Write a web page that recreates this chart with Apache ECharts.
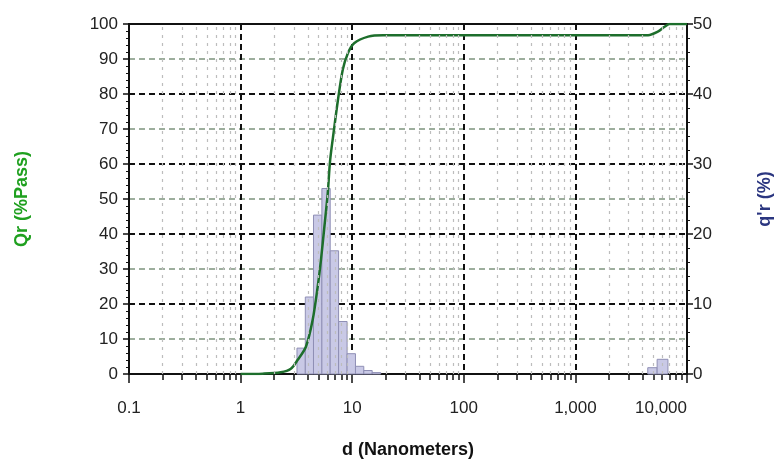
<!DOCTYPE html>
<html>
<head>
<meta charset="utf-8">
<script src="https://cdn.jsdelivr.net/npm/echarts@6/dist/echarts.min.js"></script>
<style>
  html, body { margin: 0; padding: 0; background: #ffffff; }
  #chart { width: 776px; height: 463px; }
</style>
</head>
<body>
<div id="chart"></div>
<script>
// Particle size distribution: differential histogram q'r (%) and cumulative Qr (%Pass)

// Histogram bins (nanometers) and their share of particles
const binStart = [3.2, 3.8, 4.5, 5.35, 6.35, 7.55, 9.0, 10.7, 12.7, 15.1, 4450, 5400];
const binEnd   = [3.8, 4.5, 5.35, 6.35, 7.55, 9.0, 10.7, 12.7, 15.1, 18.0, 5400, 6750];
const binPct   = [3.7, 11.0, 22.7, 26.5, 17.6, 7.5, 2.9, 1.1, 0.5, 0.2, 0.9, 2.1];

// Cumulative passing curve
const curveD    = [1.0, 1.58, 2.29, 2.82, 3.24, 3.85, 4.42, 4.91, 5.25, 5.63, 6.04, 6.34, 6.88, 7.43, 8.23, 9.13, 10.4, 13.9, 18.9, 27.6, 4480, 5480, 6290, 6960, 10000];
const curvePass = [0, 0.1, 0.5, 1.5, 4.0, 7.8, 15.4, 25.0, 32.6, 42.0, 51.7, 61.0, 70.0, 78.0, 86.9, 91.6, 94.5, 96.4, 96.8, 96.8, 96.8, 97.8, 99.2, 100, 100];

// Axis ranges
const dMin = 0.1, dMax = 10000;
const qrMax = 100, qprimeMax = 50;

// Minor decade positions (2..9 in each decade)
const minorD = [];
for (let dec = 0.1; dec < dMax; dec *= 10) {
  for (let k = 2; k <= 9; k++) minorD.push(+(dec * k).toPrecision(3));
}

const FONT = 'Liberation Sans';
const chart = echarts.init(document.getElementById('chart'), null, { renderer: 'canvas' });

chart.setOption({
  animation: false,
  backgroundColor: '#ffffff',
  grid: {
    left: 129, right: 89, top: 24, bottom: 89,
    outerBoundsMode: 'none', containLabel: false,
    show: true, borderColor: '#111', borderWidth: 2, backgroundColor: 'transparent'
  },
  xAxis: [
    {
      type: 'log', logBase: 10, min: dMin, max: dMax, splitNumber: 5,
      name: 'd (Nanometers)', nameLocation: 'middle', nameGap: 67,
      nameTextStyle: { fontFamily: FONT, fontSize: 18, fontWeight: 'bold', color: '#111' },
      axisLine: { show: true, onZero: false, lineStyle: { color: '#111', width: 2 } },
      axisTick: { show: true, length: 9, lineStyle: { color: '#111', width: 1.5 } },
      axisLabel: {
        margin: 26, fontFamily: FONT, fontSize: 17, color: '#222',
        alignMaxLabel: 'right',
        formatter: function (v) {
          if (v < 0.5) return '0.1';
          return Math.round(v).toLocaleString('en-US');
        }
      },
      splitLine: { show: true, lineStyle: { color: '#111', width: 2, type: [6, 4] } }
    },
    {
      type: 'log', logBase: 10, min: dMin, max: dMax, position: 'bottom', gridIndex: 0,
      axisLine: { show: false },
      axisTick: { show: true, length: 6, customValues: minorD, lineStyle: { color: '#111', width: 1.5 } },
      axisLabel: { show: false },
      splitLine: { show: false }
    }
  ],
  yAxis: [
    {
      type: 'value', min: 0, max: qrMax, interval: 10, position: 'left',
      name: 'Qr (%Pass)', nameLocation: 'middle', nameGap: 98,
      nameTextStyle: { fontFamily: FONT, fontSize: 18, fontWeight: 'bold', color: '#1fa01f' },
      axisLine: { show: true, lineStyle: { color: '#111', width: 2 } },
      axisTick: { show: true, length: 6, lineStyle: { color: '#111', width: 1.5 } },
      minorTick: { show: true, splitNumber: 5, length: 3, lineStyle: { color: '#111', width: 1 } },
      axisLabel: { margin: 11, fontFamily: FONT, fontSize: 17, color: '#222' },
      splitLine: { show: true, lineStyle: { color: '#7d947d', width: 1.5, type: [6, 4] } }
    },
    {
      type: 'value', min: 0, max: qprimeMax, interval: 10, position: 'right',
      name: "q'r (%)", nameLocation: 'middle', nameGap: 69, nameRotate: 90,
      nameTextStyle: { fontFamily: FONT, fontSize: 18, fontWeight: 'bold', color: '#2b3680' },
      axisLine: { show: true, lineStyle: { color: '#111', width: 2 } },
      axisTick: { show: true, length: 6, lineStyle: { color: '#111', width: 1.5 } },
      minorTick: { show: true, splitNumber: 5, length: 3, lineStyle: { color: '#111', width: 1 } },
      axisLabel: { margin: 6, fontFamily: FONT, fontSize: 17, color: '#222' },
      splitLine: { show: true, lineStyle: { color: '#111', width: 2, type: [6, 4] } }
    }
  ],
  series: [
    {
      // faint vertical guides inside each decade
      type: 'line', xAxisIndex: 0, yAxisIndex: 0, data: [], z: 1, silent: true,
      markLine: {
        silent: true, symbol: 'none', label: { show: false },
        lineStyle: { color: '#bdbdbd', width: 1.2, type: [3, 5] },
        data: minorD.map(function (d) { return { xAxis: d }; })
      }
    },
    {
      name: "q'r", type: 'custom', xAxisIndex: 0, yAxisIndex: 1, z: 3,
      data: binPct.map(function (p, i) { return [binStart[i], binEnd[i], p]; }),
      encode: { x: [0, 1], y: 2 },
      renderItem: function (params, api) {
        const a = api.coord([api.value(0), 0]);
        const b = api.coord([api.value(1), api.value(2)]);
        return {
          type: 'rect',
          shape: { x: a[0], y: b[1], width: b[0] - a[0], height: a[1] - b[1] },
          style: { fill: '#c9c9e6', stroke: '#8f8fb5', lineWidth: 1 }
        };
      }
    },
    {
      name: 'Qr', type: 'line', xAxisIndex: 0, yAxisIndex: 0, z: 4,
      data: curveD.map(function (d, i) { return [d, curvePass[i]]; }),
      showSymbol: false, smooth: 0.3,
      lineStyle: { color: '#1d6e2c', width: 2.5 }
    }
  ]
});
</script>
</body>
</html>
